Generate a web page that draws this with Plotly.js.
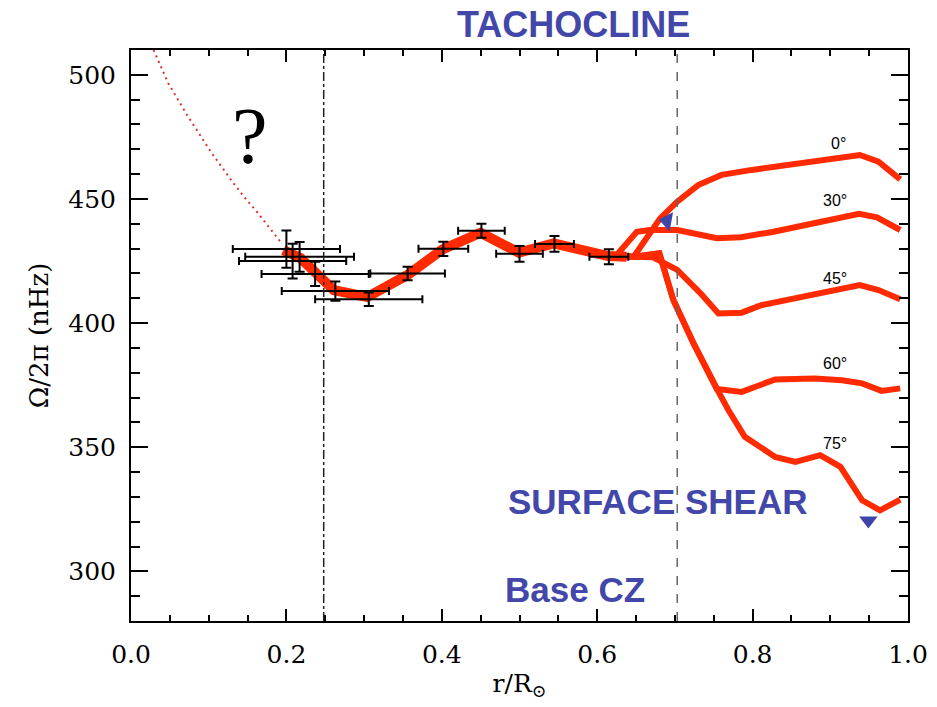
<!DOCTYPE html>
<html><head><meta charset="utf-8">
<script src="https://cdn.plot.ly/plotly-3.0.1.min.js"></script>
<style>html,body{margin:0;padding:0;background:#fff}#chart{width:937px;height:707px}</style>
</head><body><div id="chart"></div><script>
// ---- data ----
const xTickVals = [0, 0.2, 0.4, 0.6, 0.8, 1.0];
const xTickText = ['0.0', '0.2', '0.4', '0.6', '0.8', '1.0'];
const yTickVals = [300, 350, 400, 450, 500];
const yTickText = ['300', '350', '400', '450', '500'];

// inferred core rotation (dotted extrapolation towards centre)
const extrapR = [0.029, 0.048, 0.072, 0.104, 0.132, 0.147, 0.160, 0.194];
const extrapOmega = [510.0, 496.6, 483.9, 468.4, 456.3, 450.3, 445.6, 432.1];

// radiative interior rotation (thick band)
const coreR = [0.196, 0.218, 0.261, 0.304, 0.356, 0.401, 0.450, 0.499, 0.544, 0.614, 0.638];
const coreOmega = [429.4, 426.2, 413.3, 410.5, 419.4, 429.7, 436.4, 428.4, 432.1, 427.0, 426.7];

// latitude profiles in the convection zone
const lat0R = [0.614, 0.647, 0.681, 0.703, 0.730, 0.760, 0.799, 0.846, 0.898, 0.938, 0.962, 0.990];
const lat0Omega = [427.0, 426.7, 442.2, 448.9, 455.6, 459.7, 461.7, 463.7, 466.0, 467.7, 465.0, 457.9];
const lat30R = [0.614, 0.625, 0.651, 0.668, 0.703, 0.754, 0.785, 0.827, 0.879, 0.937, 0.960, 0.990];
const lat30Omega = [427.0, 427.4, 436.8, 437.5, 437.5, 434.2, 434.6, 436.8, 440.2, 444.0, 442.6, 437.5];
const lat45R = [0.614, 0.648, 0.672, 0.703, 0.733, 0.756, 0.786, 0.812, 0.863, 0.906, 0.938, 0.962, 0.990];
const lat45Omega = [427.0, 426.5, 426.5, 421.4, 412.0, 403.9, 404.2, 407.3, 410.6, 413.3, 415.3, 413.3, 409.6];
const lat60R = [0.614, 0.648, 0.680, 0.698, 0.716, 0.724, 0.754, 0.786, 0.829, 0.880, 0.915, 0.941, 0.966, 0.990];
const lat60Omega = [427.0, 426.7, 428.1, 409.3, 397.2, 391.8, 373.5, 372.3, 377.3, 377.7, 377.0, 375.7, 372.7, 373.7];
const lat75R = [0.614, 0.648, 0.680, 0.698, 0.716, 0.724, 0.754, 0.769, 0.790, 0.829, 0.855, 0.887, 0.913, 0.941, 0.964, 0.990];
const lat75Omega = [427.0, 426.7, 428.1, 409.3, 397.2, 391.8, 373.5, 364.9, 354.2, 346.1, 344.1, 346.8, 342.1, 328.6, 324.6, 328.9];

// helioseismic inversion points with errors
const pointR = [0.200, 0.208, 0.217, 0.237, 0.263, 0.306, 0.356, 0.402, 0.451, 0.500, 0.545, 0.615];
const pointOmega = [429.8, 425.0, 426.7, 419.8, 412.9, 409.6, 420.0, 429.9, 437.2, 427.9, 431.9, 426.7];
const pointErrR = [0.069, 0.069, 0.070, 0.069, 0.069, 0.069, 0.048, 0.032, 0.030, 0.030, 0.025, 0.025];
const pointErrOmega = [7.5, 7.0, 6.0, 4.9, 3.9, 2.7, 2.7, 2.9, 2.8, 3.2, 3.2, 3.0];

// blue markers (tachocline / surface)
const markR = [0.690, 0.949];
const markOmega = [441.1, 320.5];
const markSymbols = ['triangle-left', 'triangle-down'];

// reference radii: r = 0.25 and base of convection zone
const refR = [0.248, 0.703];
const refDash = ['dashdot', 'dash'];

const latLabels = ['0°', '30°', '45°', '60°', '75°'];

// ---- traces ----
const red = '#ff2a00';
const traces = [];
traces.push({x: extrapR, y: extrapOmega, mode: 'lines', line: {color: '#d8332a', width: 2, dash: '2px,4px'}, hoverinfo: 'skip'});
traces.push({x: coreR, y: coreOmega, mode: 'lines', line: {color: red, width: 10}, hoverinfo: 'skip'});
[[lat0R, lat0Omega], [lat30R, lat30Omega], [lat45R, lat45Omega], [lat60R, lat60Omega], [lat75R, lat75Omega]].forEach(function (p) {
  traces.push({x: p[0], y: p[1], mode: 'lines', line: {color: red, width: 6}, hoverinfo: 'skip'});
});
traces.push({
  x: pointR, y: pointOmega, mode: 'markers',
  marker: {size: 1, color: 'rgba(0,0,0,0)'},
  error_x: {type: 'data', array: pointErrR, visible: true, color: '#000', thickness: 2, width: 4},
  error_y: {type: 'data', array: pointErrOmega, visible: true, color: '#000', thickness: 2, width: 5},
  hoverinfo: 'skip'
});
traces.push({x: markR, y: markOmega, mode: 'markers',
  marker: {symbol: markSymbols, size: [17, 16], color: '#3f44aa', opacity: 1, line: {width: 0}, angle: [10, 0]}, hoverinfo: 'skip'});

const shapes = refR.map(function (r, i) {
  return {type: 'line', xref: 'x', yref: 'paper', x0: r, x1: r, y0: 0, y1: 1,
    line: {color: i === 0 ? '#222' : '#666', width: 1.5, dash: refDash[i]}};
});

const blue = '#4247a9';
const latPos = [[0.9105, 0.8354], [0.9066, 0.7356], [0.9066, 0.6002], [0.9066, 0.4513], [0.9066, 0.3117]];
const annotations = [
  {text: 'TACHOCLINE', xref: 'paper', yref: 'paper', x: 0.570, y: 1.0455, showarrow: false, xanchor: 'center', yanchor: 'middle',
    font: {family: 'Liberation Sans, Arial, sans-serif', size: 36, color: blue, weight: 'bold'}},
  {text: 'SURFACE SHEAR', xref: 'paper', yref: 'paper', x: 0.6774, y: 0.2089, showarrow: false, xanchor: 'center', yanchor: 'middle',
    font: {family: 'Liberation Sans, Arial, sans-serif', size: 35, color: blue, weight: 'bold'}},
  {text: 'Base CZ', xref: 'paper', yref: 'paper', x: 0.5714, y: 0.056, showarrow: false, xanchor: 'center', yanchor: 'middle',
    font: {family: 'Liberation Sans, Arial, sans-serif', size: 35, color: blue, weight: 'bold'}},
  {text: '?', xref: 'paper', yref: 'paper', x: 0.1533, y: 0.849, showarrow: false, xanchor: 'center', yanchor: 'middle',
    font: {family: 'Liberation Serif, serif', size: 80, color: '#000'}}
];
latLabels.forEach(function (t, i) {
  annotations.push({text: t, xref: 'paper', yref: 'paper', x: latPos[i][0], y: latPos[i][1], showarrow: false,
    xanchor: 'center', yanchor: 'middle', font: {family: 'Liberation Sans, Arial, sans-serif', size: 16, color: '#000'}});
});

const serif = 'DejaVu Serif, serif';
const layout = {
  width: 937, height: 707,
  margin: {l: 131, r: 29, t: 50, b: 86, autoexpand: false},
  paper_bgcolor: '#fff', plot_bgcolor: '#fff',
  showlegend: false,
  xaxis: {
    range: [0, 1], tickmode: 'array', tickvals: xTickVals, ticktext: xTickText,
    ticks: 'inside', ticklen: 12, tickwidth: 2, tickcolor: '#000',
    minor: {tickmode: 'linear', tick0: 0, dtick: 0.05, ticks: 'inside', ticklen: 6, tickwidth: 2, tickcolor: '#000', showgrid: false},
    showline: true, linewidth: 2, linecolor: '#000', mirror: 'ticks',
    showgrid: false, zeroline: false,
    tickfont: {family: serif, size: 25, color: '#000'}, ticklabelstandoff: 10,
    title: {text: 'r/R<sub>⊙</sub>', font: {family: serif, size: 25, color: '#000'}, standoff: 6}
  },
  yaxis: {
    range: [280, 510], tickmode: 'array', tickvals: yTickVals, ticktext: yTickText,
    ticks: 'inside', ticklen: 17, tickwidth: 2, tickcolor: '#000',
    minor: {tickmode: 'linear', tick0: 0, dtick: 10, ticks: 'inside', ticklen: 9, tickwidth: 2, tickcolor: '#000', showgrid: false},
    showline: true, linewidth: 2, linecolor: '#000', mirror: 'ticks',
    showgrid: false, zeroline: false,
    tickfont: {family: serif, size: 25, color: '#000'}, ticklabelstandoff: 8,
    title: {text: 'Ω/2π (nHz)', font: {family: serif, size: 26, color: '#000'}, standoff: 12}
  },
  shapes: shapes,
  annotations: annotations
};

Plotly.newPlot('chart', traces, layout, {displayModeBar: false, staticPlot: true});
</script></body></html>
